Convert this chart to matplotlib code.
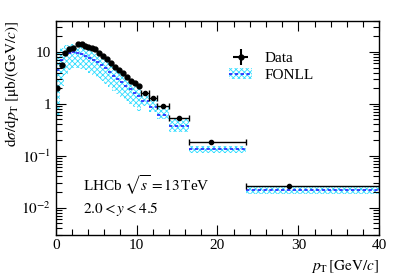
import numpy as np
import matplotlib
matplotlib.use("Agg")
import matplotlib.pyplot as plt
from matplotlib.patches import Patch
from matplotlib.lines import Line2D

plt.rcParams['font.family'] = ['Liberation Serif', 'DejaVu Serif']
plt.rcParams['mathtext.fontset'] = 'stix'
plt.rcParams['hatch.linewidth'] = 0.6

# Data: fine low-pT points
data_x = [0.2, 0.78, 1.15, 1.68, 2.18, 2.72, 3.2, 3.62, 4.03, 4.45, 4.86,
          5.3, 5.8, 6.3, 6.8, 7.33, 7.82, 8.28, 8.78, 9.27, 9.77, 10.26]
data_y = [2.03, 5.6, 9.4, 11.4, 11.8, 14.1, 14.1, 13.2, 12.5, 11.8, 11.3,
          9.7, 8.4, 7.2, 6.1, 5.1, 4.4, 3.9, 3.3, 2.8, 2.5, 2.2]
# Data: wide high-pT bins
wide_lo = [10.5, 11.5, 12.5, 14.0, 16.5, 23.5]
wide_hi = [11.5, 12.5, 14.0, 16.5, 23.5, 40.0]
wide_x = [11.0, 12.0, 13.25, 15.25, 19.2, 28.8]
wide_y = [1.65, 1.29, 0.89, 0.53, 0.183, 0.0265]

# FONLL prediction per bin
fonll_edges = [0, 0.5, 1, 1.5, 2, 2.5, 3, 3.5, 4, 4.5, 5, 5.5, 6, 6.5, 7, 7.5,
               8, 8.5, 9, 9.5, 10, 10.5, 11.5, 12.5, 14, 16.5, 23.5, 40]
fonll_c = [4.5, 7.0, 8.8, 9.6, 9.8, 9.6, 9.1, 8.5, 7.8, 7.0, 6.3, 5.5, 4.8, 4.1,
           3.5, 3.0, 2.6, 2.2, 1.9, 1.65, 1.42, 1.14, 0.86, 0.62, 0.375, 0.135, 0.0215]
fonll_hi = [9.5, 12.0, 13.5, 14.0, 14.0, 13.5, 12.8, 12.0, 11.0, 10.0, 9.0, 8.0, 7.0,
            6.0, 5.2, 4.5, 3.9, 3.35, 2.9, 2.5, 2.15, 1.6, 1.19, 0.86, 0.52, 0.155, 0.025]
fonll_lo = [0.6, 2.2, 3.6, 4.5, 4.9, 4.9, 4.7, 4.4, 4.0, 3.6, 3.2, 2.8, 2.45, 2.1,
            1.8, 1.55, 1.33, 1.14, 0.98, 0.85, 0.73, 0.89, 0.71, 0.5, 0.29, 0.112, 0.0185]

fig = plt.figure(figsize=(3.99, 2.78), dpi=100)
ax = fig.add_axes([0.1396, 0.156, 0.811, 0.7695])

edges = np.array(fonll_edges)
lo = np.array(fonll_lo)
hi = np.array(fonll_hi)
ax.bar(edges[:-1], hi - lo, width=np.diff(edges), bottom=lo, align='edge',
       facecolor='none', edgecolor='#33ddff', hatch='xxxxxx', linewidth=0, zorder=1)
ax.hlines(fonll_c, edges[:-1], edges[1:], colors='#2222ff',
          linestyles=(0, (2.0, 1.5)), linewidth=1.2, zorder=2)

ax.errorbar(data_x, data_y, fmt='o', color='black', markersize=3.5, zorder=4)
xerr = [np.array(wide_x) - np.array(wide_lo), np.array(wide_hi) - np.array(wide_x)]
ax.errorbar(wide_x, wide_y, xerr=xerr, fmt='o', color='black', markersize=3.0,
            elinewidth=1.0, capsize=2.5, capthick=1.0, zorder=4)

ax.set_yscale('log')
ax.set_xlim(0, 40)
ax.set_ylim(0.003, 40)
ax.set_xticks([0, 10, 20, 30, 40])
ax.set_xticks(np.arange(0, 41, 2), minor=True)
ax.set_yticks([0.01, 0.1, 1, 10])
ax.set_yticklabels([r'$10^{-2}$', r'$10^{-1}$', '1', '10'])
ax.tick_params(which='both', direction='in', top=True, right=True, labelsize=11)
ax.tick_params(which='major', length=7, width=0.8)
ax.tick_params(which='minor', length=4, width=0.8)
for s in ax.spines.values():
    s.set_linewidth(1.0)

ax.set_ylabel(r'$\mathrm{d}\sigma/\mathrm{d}p_{\mathrm{T}}\ [\mathrm{\mu b}/(\mathrm{GeV}/c)]$',
              fontsize=11, loc='top')
ax.yaxis.set_label_coords(-0.108, 1.0)
ax.set_xlabel(r'$p_{\mathrm{T}}\,[\mathrm{GeV}/c]$', fontsize=11, loc='right')

ax.text(0.083, 0.23, r'LHCb $\sqrt{s} = 13\,$TeV', transform=ax.transAxes, fontsize=11,
        va='center')
ax.text(0.083, 0.12, r'$2.0 < y < 4.5$', transform=ax.transAxes, fontsize=11, va='center')

h_d = ax.errorbar([], [], xerr=[1], yerr=[1], fmt='o', color='black', markersize=3.5)
h_band = Patch(facecolor='none', edgecolor='#33ddff', hatch='xxxxxx', linewidth=0)
h_line = Line2D([], [], color='#2222ff', linestyle=(0, (2.0, 1.5)), lw=1.2)
ax.legend([h_d, (h_band, h_line)], ['Data', 'FONLL'], loc='upper right',
          bbox_to_anchor=(0.84, 0.92), frameon=False, fontsize=11,
          handlelength=1.5, handletextpad=0.8, labelspacing=0.2)

fig.savefig('out.png', dpi=100)
